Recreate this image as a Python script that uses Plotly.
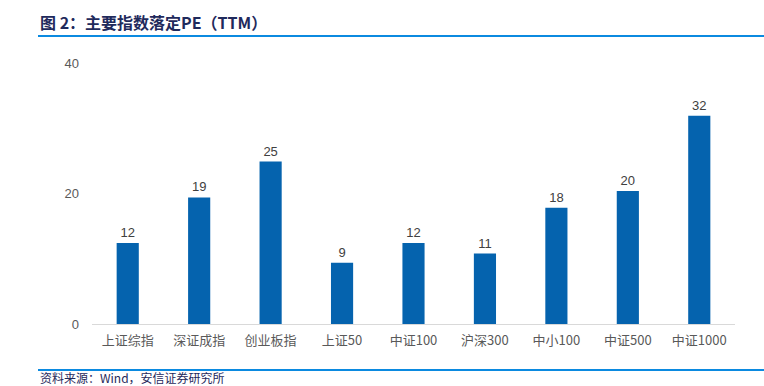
import plotly.graph_objects as go

categories = ["上证综指", "深证成指", "创业板指", "上证50", "中证100", "沪深300", "中小100", "中证500", "中证1000"]
pe_ttm = [12.4, 19.4, 24.9, 9.4, 12.4, 10.8, 17.8, 20.4, 31.9]
y_ticks = [0, 20, 40]

W, H = 764, 386
L, R, T, B = 92, 29, 63, 62
pw, ph = W - L - R, H - T - B

def px_x(x):
    return (x - L) / pw

def px_y(y):
    return (H - B - y) / ph

cjk = "Noto Sans CJK SC"

fig = go.Figure(go.Bar(
    x=categories, y=pe_ttm,
    marker=dict(color="#0563AE", line=dict(width=0)),
    width=0.31,
    text=pe_ttm, texttemplate="%{y:.0f}", textposition="outside",
    textfont=dict(family="Liberation Sans, Arial", size=13, color="#404040"),
    cliponaxis=False,
))

fig.update_layout(
    width=W, height=H,
    margin=dict(l=L, r=R, t=T, b=B),
    paper_bgcolor="white", plot_bgcolor="white",
    showlegend=False,
    font=dict(family=cjk, color="#595959"),
    xaxis=dict(showgrid=False, showline=True, linecolor="#D9D9D9", linewidth=1,
               ticks="", ticklabelstandoff=4,
               tickfont=dict(family=cjk, size=13, color="#595959")),
    yaxis=dict(range=[0, 40], tickvals=y_ticks, showgrid=False, showline=False,
               zeroline=False, ticks="", ticklabelstandoff=12,
               tickfont=dict(family="Liberation Sans, Arial", size=13, color="#595959")),
    shapes=[
        dict(type="line", xref="paper", yref="paper", x0=px_x(38), x1=px_x(764),
             y0=px_y(36), y1=px_y(36), line=dict(color="#0B8AE0", width=2)),
        dict(type="line", xref="paper", yref="paper", x0=px_x(38), x1=px_x(764),
             y0=px_y(370), y1=px_y(370), line=dict(color="#0B8AE0", width=2)),
    ],
    annotations=[
        dict(text="<b>图 2：主要指数落定PE（TTM）</b>", xref="paper", yref="paper",
             x=px_x(38), y=px_y(22), xanchor="left", yanchor="middle", showarrow=False,
             font=dict(family=cjk, size=16, color="#1F2A5C")),
        dict(text="资料来源：Wind，安信证券研究所", xref="paper", yref="paper",
             x=px_x(38), y=px_y(377), xanchor="left", yanchor="middle", showarrow=False,
             font=dict(family=cjk, size=12, color="#1F2A5C")),
    ],
)

fig.write_html("out.html", config={"displayModeBar": False},
               post_script="document.body.style.margin='0';")
